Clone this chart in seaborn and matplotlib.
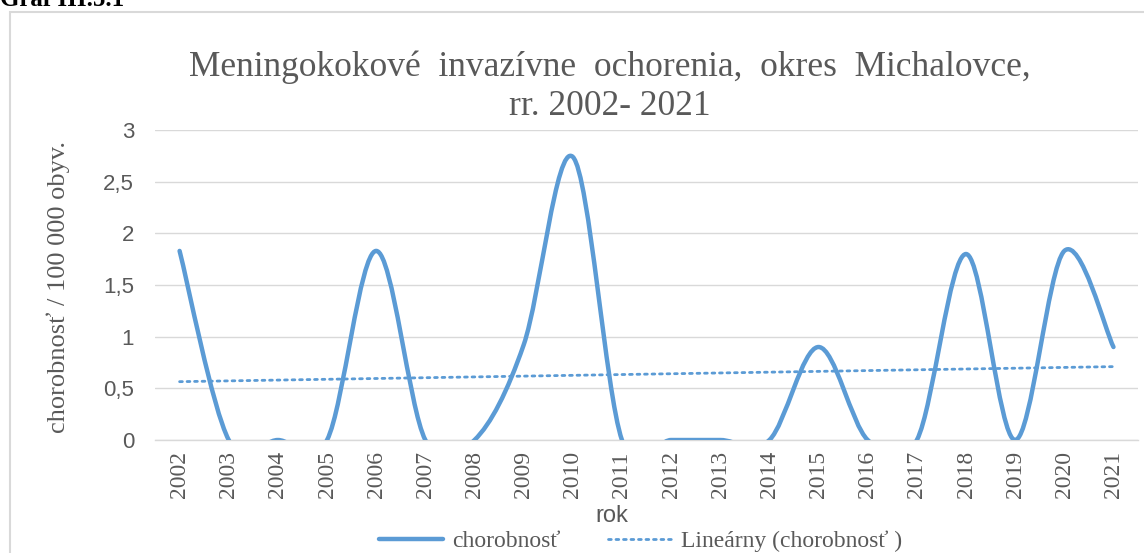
import numpy as np
import matplotlib
matplotlib.use("Agg")
import matplotlib.pyplot as plt
from matplotlib.path import Path
from matplotlib.patches import PathPatch, Rectangle
from matplotlib.lines import Line2D
import seaborn as sns

# Data
years = [str(y) for y in range(2002, 2022)]
incidence = [1.83, 0, 0, 0, 1.83, 0, 0, 0.92, 2.74, 0,
             0, 0, 0, 0.9, 0, 0, 1.8, 0, 1.83, 0.9]
yticks = [0, 0.5, 1, 1.5, 2, 2.5, 3]
ytick_labels = ["0", "0,5", "1", "1,5", "2", "2,5", "3"]

title = "Meningokokové  invazívne  ochorenia,  okres  Michalovce,\nrr. 2002- 2021"
ylabel = "chorobnosť / 100 000 obyv."
xlabel = "rok"
series_name = "chorobnosť"
trend_name = "Lineárny (chorobnosť )"

BLUE = "#5B9BD5"
GREY = "#595959"
GRID = "#D9D9D9"
SERIF = "Liberation Serif"
SANS = "Liberation Sans"


def smooth_path(xs, ys):
    # Excel-style smoothed line: cubic Bezier through every point
    n = len(xs)
    verts = [(xs[0], ys[0])]
    codes = [Path.MOVETO]
    for i in range(n - 1):
        p0 = i - 1 if i > 0 else 0
        p3 = i + 2 if i + 2 < n else n - 1
        c1 = (xs[i] + (xs[i + 1] - xs[p0]) / 6, ys[i] + (ys[i + 1] - ys[p0]) / 6)
        c2 = (xs[i + 1] - (xs[p3] - xs[i]) / 6, ys[i + 1] - (ys[p3] - ys[i]) / 6)
        verts += [c1, c2, (xs[i + 1], ys[i + 1])]
        codes += [Path.CURVE4] * 3
    return Path(verts, codes)


def main():
    sns.set_theme(style="white")
    fig = plt.figure(figsize=(11.44, 5.53), dpi=100)
    ax = fig.add_axes([0.1355, 0.2043, 0.8593, 0.5606])

    xs = np.arange(len(years))

    # trend line (linear regression)
    sns.regplot(x=xs, y=np.array(incidence), ax=ax, scatter=False, ci=None,
                truncate=True,
                line_kws=dict(color=BLUE, lw=2, linestyle=(0, (1, 1.7)),
                              dash_capstyle="round"))

    # smoothed series
    patch = PathPatch(smooth_path(xs, incidence), facecolor="none",
                      edgecolor=BLUE, lw=3.2, capstyle="round", joinstyle="round",
                      zorder=3)
    ax.add_patch(patch)

    ax.set_xlim(-0.5, len(years) - 0.5)
    ax.set_ylim(0, 3)
    ax.set_yticks(yticks)
    ax.set_yticklabels(ytick_labels, family=SANS, fontsize=16, color=GREY)
    ax.set_xticks(xs)
    ax.set_xticklabels(years, rotation=90, family=SERIF, fontsize=17, color=GREY)
    ax.tick_params(axis="x", length=0, pad=8)
    ax.tick_params(axis="y", length=0, pad=15)

    ax.grid(axis="y", color=GRID, lw=1)
    ax.set_axisbelow(True)
    for s in ["top", "right", "left"]:
        ax.spines[s].set_visible(False)
    ax.spines["bottom"].set_color(GRID)
    ax.spines["bottom"].set_linewidth(1)

    ax.set_xlabel(xlabel, family=SANS, fontsize=17, color=GREY, va="center")
    ax.xaxis.set_label_coords(0.465, -0.245)
    ax.set_ylabel(ylabel, family=SERIF, fontsize=19, color=GREY, va="center")
    ax.yaxis.set_label_coords(-0.0987, 0.494)

    fig.text(0.533, 1 - 87 / 553, title, ha="center", va="center", family=SERIF,
             fontsize=25.5, color=GREY, linespacing=1.22)

    # chart border and caption
    fig.patches.append(Rectangle((10 / 1144, -0.1), 1.2, 1 - 12 / 553 + 0.1,
                                 transform=fig.transFigure, fill=False,
                                 edgecolor=GRID, lw=1.5))
    fig.text(0.0, 1 - 6 / 553, "Graf III.5.1", family=SERIF, fontsize=18,
             fontweight="bold", color="black", va="baseline", ha="left")

    handles = [Line2D([], [], color=BLUE, lw=3.2),
               Line2D([], [], color=BLUE, lw=2, linestyle=(0, (1, 1.7)),
                      dash_capstyle="round")]
    fig.legend(handles, [series_name, trend_name], loc="center",
               bbox_to_anchor=(0.56, 1 - 541 / 553), ncol=2, frameon=False,
               prop=dict(family=SERIF, size=17), labelcolor=GREY,
               handlelength=2.7, columnspacing=2.0, handletextpad=0.4)

    fig.savefig("out.png", dpi=100)


if __name__ == "__main__":
    main()
